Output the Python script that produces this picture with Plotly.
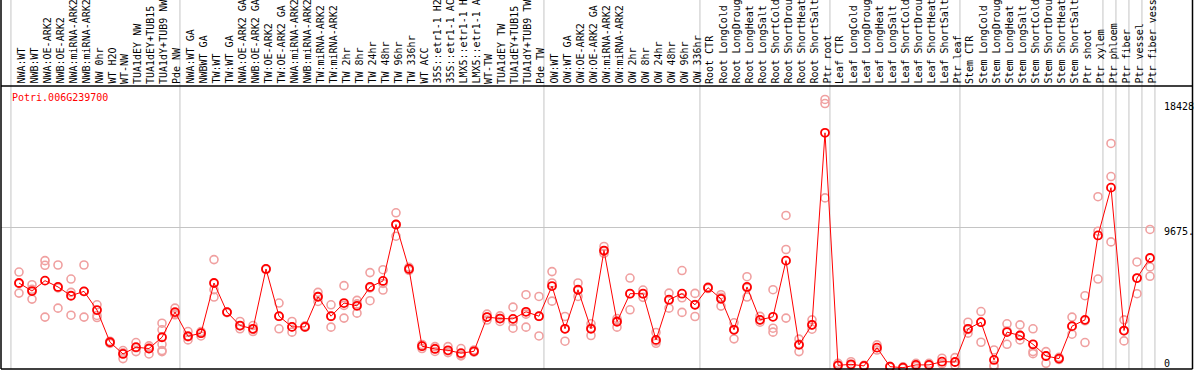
import plotly.graph_objects as go

gene = "Potri.006G239700"

categories = [
    "NWA:WT", "NWB:WT", "NWA:OE-ARK2", "NWB:OE-ARK2", "NWA:miRNA-ARK2", "NWB:miRNA-ARK2",
    "NW 0hr", "WT H2O", "WT-NW", "TUA1dEY NW", "TUA1dEY+TUB15 NW", "TUA1dY+TUB9 NW", "Pde NW",
    "NWA:WT GA", "NWBWT GA", "TW:WT", "TW:WT GA", "NWA:OE-ARK2 GA", "NWB:OE-ARK2 GA",
    "TW:OE-ARK2", "TW:OE-ARK2 GA", "NWA:miRNA-ARK2", "NWB:miRNA-ARK2", "TW:miRNA-ARK2",
    "TW:miRNA-ARK2", "TW 2hr", "TW 8hr", "TW 24hr", "TW 48hr", "TW 96hr", "TW 336hr",
    "WT ACC", "35S::etr1-1 H2O", "35S::etr1-1 ACC", "LMX5::etr1-1 H2O", "LMX5::etr1-1 ACC",
    "WT-TW", "TUA1dEY TW", "TUA1dEY+TUB15 TW", "TUA1dY+TUB9 TW", "Pde TW",
    "OW:WT", "OW:WT GA", "OW:OE-ARK2", "OW:OE-ARK2 GA", "OW:miRNA-ARK2", "OW:miRNA-ARK2",
    "OW 2hr", "OW 8hr", "OW 24hr", "OW 48hr", "OW 96hr", "OW 336hr",
    "Root CTR", "Root LongCold", "Root LongDrought", "Root LongHeat", "Root LongSalt",
    "Root ShortCold", "Root ShortDrought", "Root ShortHeat", "Root ShortSalt", "Ptr root",
    "Leaf CTR", "Leaf LongCold", "Leaf LongDrought", "Leaf LongHeat", "Leaf LongSalt",
    "Leaf ShortCold", "Leaf ShortDrought", "Leaf ShortHeat", "Leaf ShortSalt", "Ptr leaf",
    "Stem CTR", "Stem LongCold", "Stem LongDrought", "Stem LongHeat", "Stem LongSalt",
    "Stem ShortCold", "Stem ShortDrought", "Stem ShortHeat", "Stem ShortSalt",
    "Ptr shoot", "Ptr xylem", "Ptr phloem", "Ptr fiber", "Ptr vessel", "Ptr fiber vessel",
]

mean_values = [
    5880, 5330, 6040, 5610, 5010, 5310, 4030, 1830, 1030, 1490, 1400, 2170, 3890,
    2240, 2450, 5880, 3890, 2970, 2750, 6840, 3610, 2880, 2880, 4940, 3610, 4510,
    4320, 5610, 6020, 9880, 6840, 1560, 1370, 1280, 1080, 1210, 3550, 3450, 3430,
    3910, 3610, 5670, 2750, 5420, 2750, 8100, 3230, 5150, 5150, 1990, 4740, 5150,
    4390, 5560, 4800, 2680, 5610, 3360, 3570, 7410, 1650, 3020, 16150,
    250, 320, 210, 1460, 160, 90, 280, 280, 500, 480,
    2750, 3200, 620, 2520, 2290, 1690, 890, 710, 2930, 3360, 9130, 12400, 2630,
    6220, 7590,
]

replicates = [
    [6630, 5190, 5850], [5760, 4780, 5450], [7410, 7090, 3550], [7110, 4160, 5550],
    [6150, 5240, 3680], [7110, 3550, 5300], [4390, 3660, 3520], [1750, 1900, 1850],
    [1260, 710, 1100], [1810, 1190, 1450], [1580, 1030, 1400],
    [3130, 2680, 1690, 1260, 1190], [4160, 3710, 3800],
    [2560, 1990, 2200], [2560, 2260, 2450], [7480, 4920, 5420], [3890, 3850],
    [3250, 2750, 2950], [2970, 2560, 2700], [6840, 6800], [4510, 2750, 3600],
    [3250, 2520, 2880], [2950, 2850], [5240, 4620, 4950], [4390, 2860, 3600],
    [5700, 3480, 4350], [4690, 3820, 4450], [6590, 4670, 5550], [6790, 5400, 5850],
    [10680, 9080, 9880], [6950, 6800, 6750], [1400, 1600, 1680], [1530, 1200, 1390],
    [1530, 1120, 1250], [1400, 890, 950], [1300, 1150], [3750, 3350, 3550],
    [3630, 3250, 3450], [4230, 3250, 2790], [5080, 3750, 2860], [4960, 2260, 3600],
    [6660, 5880, 4640], [3590, 1900, 2750], [5880, 4960, 5400], [3090, 2290, 2800],
    [8380, 7900, 8050], [3450, 2860, 3300], [6220, 4050, 5150], [5400, 4900, 5150],
    [1760, 2500, 1900], [5190, 4160, 4700], [6730, 4870, 3870], [5170, 3590, 4400],
    [5500, 5600], [5080, 4300, 4900], [3160, 2060, 2700], [6310, 4920, 5550],
    [3600, 3200, 3350], [5420, 2790, 2520], [10500, 8170, 3480], [2040, 1190, 1700],
    [3360, 2720, 3000], [18428, 18150, 11700],
    [390, 200], [500, 250], [250, 180], [1650, 1300], [120, 180], [150, 60],
    [390, 180], [390, 250], [740, 350], [780, 250],
    [3200, 2450, 2700], [3930, 1830, 3200], [1300, 160, 250], [3090, 1690, 2600],
    [3020, 1990, 2300], [2750, 1190, 1050], [1190, 390, 900], [800, 650],
    [3550, 2380, 2900], [5010, 1810, 3300], [11780, 9420, 6150], [15420, 13160, 8690],
    [3360, 1920, 2600], [7320, 5150, 6200], [9540, 6980, 6340],
]

# group separators drawn after these category indices
separators_after = [-1, 12, 40, 52, 62, 72, 83, 84, 85, 86, 87]

y_axis_max = 19350
y_labels = ["18428", "9675.", "0"]
grid_value = 9675

# ---- figure geometry ----
W, H = 1194, 370
ml, mr, mt, mb = 1, 39, 86, 1
plot_w = W - ml - mr
plot_h = H - mt - mb
step_px = 13.0
first_px = 19.0
x_lo = -(first_px - ml) / step_px
x_hi = x_lo + plot_w / step_px


def xpaper(v):
    return (v - x_lo) / (x_hi - x_lo)


top_paper = 1 + mt / plot_h

rep_x, rep_y = [], []
for i, reps in enumerate(replicates):
    for r in reps:
        rep_x.append(i)
        rep_y.append(r)

mono = "DejaVu Sans Mono"

fig = go.Figure()
fig.add_trace(go.Scatter(
    x=rep_x, y=rep_y, mode="markers",
    marker=dict(symbol="circle-open", size=8, color="#F0A0A0", line=dict(width=1.6)),
    cliponaxis=False, hoverinfo="skip", showlegend=False,
))
fig.add_trace(go.Scatter(
    x=list(range(len(categories))), y=mean_values, mode="lines+markers",
    line=dict(color="#FF0000", width=1),
    marker=dict(symbol="circle-open", size=8, color="#FF0000", line=dict(width=1.8)),
    cliponaxis=False, showlegend=False,
))

shapes = []
for s in separators_after:
    xp = xpaper(s + 0.38)
    shapes.append(dict(type="line", xref="paper", yref="paper", x0=xp, x1=xp,
                       y0=0, y1=top_paper, line=dict(color="#C4C4C4", width=1), layer="below"))
shapes.append(dict(type="line", xref="paper", yref="y", x0=0, x1=1,
                   y0=grid_value, y1=grid_value, line=dict(color="#C4C4C4", width=1), layer="below"))
right_edge = (W - 1.5 - ml) / plot_w
# black frame
shapes += [
    dict(type="line", xref="paper", yref="paper", x0=0, x1=right_edge, y0=1, y1=1,
         line=dict(color="black", width=1.5)),
    dict(type="line", xref="paper", yref="paper", x0=0, x1=right_edge, y0=0, y1=0,
         line=dict(color="black", width=1.5)),
    dict(type="line", xref="paper", yref="paper", x0=0, x1=0, y0=0, y1=top_paper,
         line=dict(color="black", width=1.5)),
    dict(type="line", xref="paper", yref="paper", x0=right_edge, x1=right_edge, y0=0, y1=top_paper,
         line=dict(color="black", width=1.5)),
]

annotations = [
    dict(text=gene, xref="paper", yref="paper", x=(10 - ml) / plot_w, y=1 - (97 - mt) / plot_h,
         xanchor="left", yanchor="middle", showarrow=False,
         font=dict(family=mono, size=10, color="#FF0000")),
    dict(text=y_labels[0], xref="paper", yref="y", x=1, y=18428, xshift=7,
         xanchor="left", yanchor="top", showarrow=False, font=dict(family=mono, size=10, color="black")),
    dict(text=y_labels[1], xref="paper", yref="y", x=1, y=grid_value, xshift=7, yshift=-4,
         xanchor="left", yanchor="middle", showarrow=False, font=dict(family=mono, size=10, color="black")),
    dict(text=y_labels[2], xref="paper", yref="y", x=1, y=0, xshift=7, yshift=-2,
         xanchor="left", yanchor="bottom", showarrow=False, font=dict(family=mono, size=10, color="black")),
]

# category labels, rotated, reading upwards from the top border
for i, name in enumerate(categories):
    annotations.append(dict(
        text=name, xref="x", yref="paper", x=i, y=1, xanchor="center", yanchor="bottom",
        textangle=-90, xshift=1.5, yshift=1, showarrow=False, borderpad=0,
        font=dict(family=mono, size=10, color="black"),
    ))

fig.update_layout(
    width=W, height=H,
    margin=dict(l=ml, r=mr, t=mt, b=mb, pad=0),
    paper_bgcolor="white", plot_bgcolor="white",
    shapes=shapes, annotations=annotations,
    xaxis=dict(range=[x_lo, x_hi], showticklabels=False,
               showgrid=False, zeroline=False, showline=False, ticks="", automargin=False),
    yaxis=dict(range=[0, y_axis_max], showticklabels=False, showgrid=False,
               zeroline=False, showline=False, ticks="", automargin=False),
)

fig.write_html(
    "out.html",
    config={"displayModeBar": False},
    post_script="document.body.style.margin='0px';document.body.style.overflow='hidden';",
)
